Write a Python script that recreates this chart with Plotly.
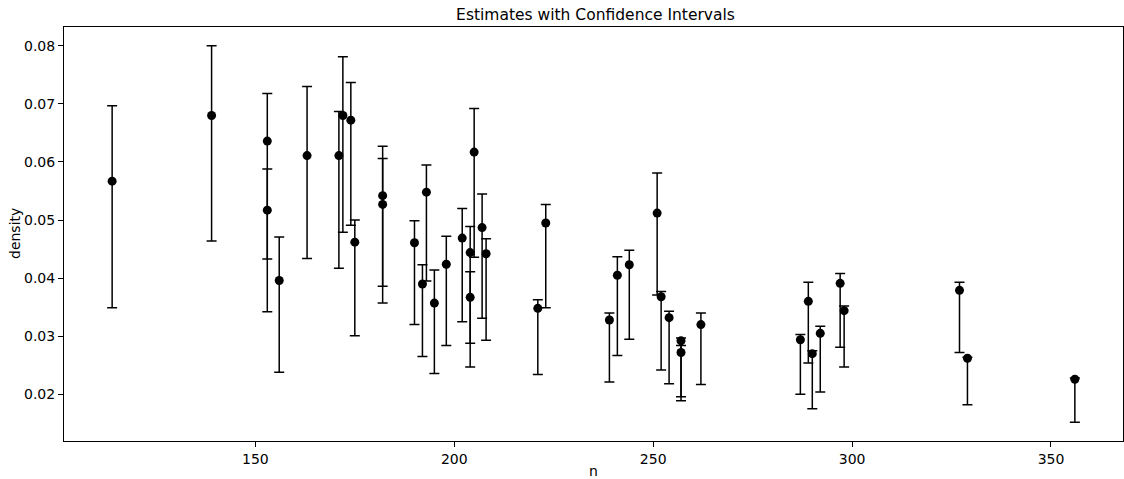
import plotly.graph_objects as go

n = [114, 139, 153, 153, 156, 163, 171, 172, 174, 175,
     182, 182, 190, 192, 193, 195, 198, 202, 204, 204,
     205, 207, 208, 221, 223, 239, 241, 244, 251, 252,
     254, 257, 257, 262, 287, 289, 290, 292, 297, 298,
     327, 329, 356]

density = [0.0567, 0.0680, 0.0636, 0.0517, 0.0396, 0.0611, 0.0611, 0.0680, 0.0672, 0.0462,
           0.0542, 0.0527, 0.0461, 0.0390, 0.0548, 0.0357, 0.0424, 0.0469, 0.0444, 0.0367,
           0.0617, 0.0487, 0.0442, 0.0348, 0.0495, 0.0328, 0.0405, 0.0423, 0.0512, 0.0368,
           0.0332, 0.0292, 0.0272, 0.0320, 0.0294, 0.0360, 0.0270, 0.0305, 0.0391, 0.0344,
           0.0379, 0.0262, 0.0226]

lower = [0.0349, 0.0464, 0.0433, 0.0342, 0.0238, 0.0434, 0.0417, 0.0479, 0.0491, 0.0301,
         0.0386, 0.0357, 0.0320, 0.0265, 0.0395, 0.0236, 0.0284, 0.0325, 0.0288, 0.0247,
         0.0436, 0.0331, 0.0293, 0.0234, 0.0349, 0.0221, 0.0267, 0.0295, 0.0371, 0.0242,
         0.0218, 0.0196, 0.0189, 0.0217, 0.0200, 0.0254, 0.0175, 0.0204, 0.0281, 0.0247,
         0.0272, 0.0182, 0.0152]

upper = [0.0697, 0.0800, 0.0718, 0.0588, 0.0471, 0.0730, 0.0687, 0.0781, 0.0737, 0.0500,
         0.0627, 0.0606, 0.0499, 0.0423, 0.0595, 0.0414, 0.0472, 0.0520, 0.0489, 0.0411,
         0.0692, 0.0545, 0.0468, 0.0363, 0.0527, 0.0340, 0.0437, 0.0448, 0.0581, 0.0377,
         0.0343, 0.0297, 0.0284, 0.0340, 0.0303, 0.0393, 0.0275, 0.0317, 0.0408, 0.0352,
         0.0393, 0.0264, 0.0228]

x_ticks = [150, 200, 250, 300, 350]
y_ticks = [0.02, 0.03, 0.04, 0.05, 0.06, 0.07, 0.08]

err_plus = [u - d for u, d in zip(upper, density)]
err_minus = [d - l for d, l in zip(density, lower)]

FONT = "DejaVu Sans"
W, H = 1124, 479

fig = go.Figure()
fig.add_trace(go.Scatter(
    x=n, y=density, mode="markers",
    marker=dict(color="black", size=9),
    error_y=dict(type="data", symmetric=False, array=err_plus, arrayminus=err_minus,
                 color="black", thickness=1.5, width=5),
    showlegend=False,
))

axis_common = dict(
    showgrid=False, zeroline=False, showline=True, linecolor="black", linewidth=1,
    mirror=True, ticks="outside", ticklen=5, tickwidth=1, tickcolor="black",
    tickfont=dict(family=FONT, size=14, color="black"), automargin=False,
)

fig.update_layout(
    width=W, height=H,
    margin=dict(l=64, r=1, t=27, b=38, autoexpand=False),
    paper_bgcolor="white", plot_bgcolor="white",
    font=dict(family=FONT, color="black"),
    title=dict(text="Estimates with Confidence Intervals", x=595.5 / W, xanchor="center",
               xref="container", y=1 - 15 / H, yanchor="middle", yref="container",
               automargin=False,
               font=dict(family=FONT, size=15.5, color="black")),
    xaxis=dict(range=[101.9, 368.1], tickvals=x_ticks, **axis_common),
    yaxis=dict(range=[0.01196, 0.08324], tickvals=y_ticks, tickformat=".2f", **axis_common),
    annotations=[
        dict(text="n", xref="paper", yref="paper", x=0.5, y=-(471 - 441) / 414,
             xanchor="center", yanchor="middle", showarrow=False,
             font=dict(family=FONT, size=14, color="black")),
        dict(text="density", xref="paper", yref="paper", x=-(64 - 15) / 1059, y=0.5,
             xanchor="center", yanchor="middle", showarrow=False, textangle=-90,
             font=dict(family=FONT, size=14, color="black")),
    ],
)

fig.write_html(
    "out.html",
    config={"displayModeBar": False},
    post_script="document.body.style.margin='0';document.body.style.overflow='hidden';"
                "document.documentElement.style.overflow='hidden';",
)
